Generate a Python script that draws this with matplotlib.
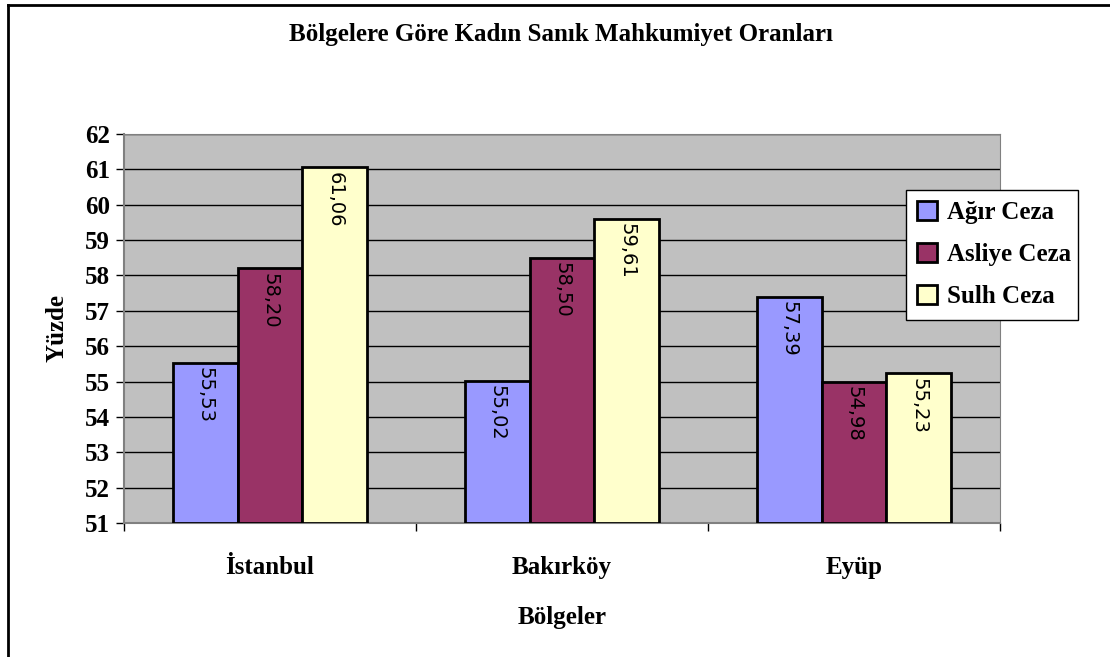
import matplotlib.pyplot as plt
import numpy as np

# data
bolgeler = ['İstanbul', 'Bakırköy', 'Eyüp']
seriler = ['Ağır Ceza', 'Asliye Ceza', 'Sulh Ceza']
agir = [55.53, 55.02, 57.39]
asliye = [58.20, 58.50, 54.98]
sulh = [61.06, 59.61, 55.23]
renkler = ['#9999FF', '#993366', '#FFFFCC']
y_ticks = list(range(51, 63))

plt.rcParams['font.family'] = 'Liberation Serif'
plt.rcParams['font.weight'] = 'bold'

fig = plt.figure(figsize=(11.10, 6.57), dpi=100)
ax = fig.add_axes([0.1117, 0.2040, 0.7892, 0.5920])
ax.set_facecolor('#C0C0C0')

x = np.arange(len(bolgeler))
w = 0.222
for i, (vals, ad, c) in enumerate(zip([agir, asliye, sulh], seriler, renkler)):
    pos = x + (i - 1) * w
    ax.bar(pos, np.array(vals) - 51, bottom=51, width=w, color=c,
           edgecolor='black', linewidth=2, label=ad, zorder=3)
    for p, v in zip(pos, vals):
        ax.text(p, v - 0.12, f'{v:.2f}'.replace('.', ','), rotation=-90,
                ha='center', va='top', fontsize=14, family='DejaVu Sans',
                fontweight='normal', zorder=4)

ax.set_xlim(-0.5, 2.5)
ax.set_ylim(51, 62)
ax.set_yticks(y_ticks)
ax.set_yticklabels([str(t) for t in y_ticks], fontsize=18, fontweight='bold')
ax.yaxis.grid(True, color='black', linewidth=1, zorder=0)
ax.set_axisbelow(True)
ax.tick_params(axis='y', length=6, width=1, pad=4)

ax.set_xticks([-0.5, 0.5, 1.5, 2.5], minor=False)
ax.set_xticklabels([])
ax.set_xticks(x, minor=True)
ax.set_xticklabels(bolgeler, minor=True, fontsize=18, fontweight='bold')
ax.tick_params(axis='x', which='major', length=6, width=1, direction='out')
ax.tick_params(axis='x', which='minor', length=0, pad=24)

for s in ['top', 'right']:
    ax.spines[s].set_color('#808080')
for s in ['left', 'bottom']:
    ax.spines[s].set_color('#808080')
    ax.spines[s].set_linewidth(1.5)

ax.set_ylabel('Yüzde', fontsize=18, fontweight='bold', labelpad=12)
ax.set_xlabel('Bölgeler', fontsize=18, fontweight='bold', labelpad=19)

fig.text(0.5055, 0.948, 'Bölgelere Göre Kadın Sanık Mahkumiyet Oranları',
         ha='center', va='center', fontsize=18, fontweight='bold')

leg = ax.legend(loc='upper left', bbox_to_anchor=(0.8164, 0.516, 0.155, 0.195),
                bbox_transform=fig.transFigure, mode='expand', fontsize=18,
                frameon=True, fancybox=False, edgecolor='black', framealpha=1,
                handlelength=0.8, handleheight=0.8, handletextpad=0.4,
                labelspacing=0.75, borderaxespad=0, borderpad=0.45)
leg.get_frame().set_linewidth(1)

# outer border (top and left)
fig.add_artist(plt.Line2D([0.0072, 0.0072], [0, 0.992], color='black', linewidth=2,
                          transform=fig.transFigure))
fig.add_artist(plt.Line2D([0.0072, 1], [0.992, 0.992], color='black', linewidth=2,
                          transform=fig.transFigure))

fig.savefig('out.png', dpi=100)
